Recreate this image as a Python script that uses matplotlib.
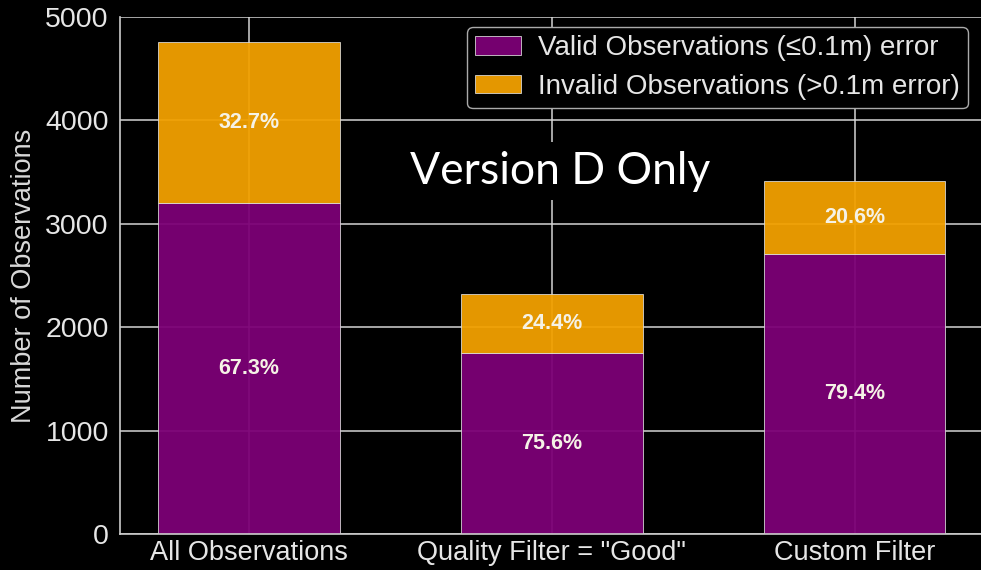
import matplotlib
matplotlib.use("Agg")
import matplotlib.pyplot as plt
import numpy as np

categories = ["All Observations", 'Quality Filter = "Good"', "Custom Filter"]
valid = [3203, 1754, 2711]
invalid = [1557, 566, 703]
valid_pct = ["67.3%", "75.6%", "79.4%"]
invalid_pct = ["32.7%", "24.4%", "20.6%"]
yticks = [0, 1000, 2000, 3000, 4000, 5000]

purple = "#7c0076"
orange = "#F2A000"

plt.rcParams['font.family'] = ['Liberation Sans', 'DejaVu Sans']
fig = plt.figure(figsize=(9.81, 5.70), dpi=100, facecolor='black')
ax = fig.add_axes([120/981, 1-534/570, 1-120/981 + 0.01, (534-17)/570])
ax.set_facecolor('black')

x = np.arange(len(categories))
ax.set_axisbelow(True)
ax.grid(True, color='#d8d8d8', linewidth=1.2, alpha=0.9)
b1 = ax.bar(x, valid, width=0.6, color=purple, alpha=0.95, edgecolor='#dddddd', linewidth=0.6,
            label="Valid Observations (≤0.1m) error")
b2 = ax.bar(x, invalid, width=0.6, bottom=valid, color=orange, alpha=0.95, edgecolor='#dddddd', linewidth=0.6,
            label="Invalid Observations (>0.1m error)")

for i in range(len(categories)):
    ax.text(x[i], valid[i] / 2, valid_pct[i], ha='center', va='center', color='#f5f2e6',
            fontsize=15.5, fontweight='bold')
    ax.text(x[i], valid[i] + invalid[i] / 2, invalid_pct[i], ha='center', va='center', color='#f5f2e6',
            fontsize=15.5, fontweight='bold')

ax.set_xlim(-0.426, 2.45)
ax.set_ylim(0, 5000)
ax.set_yticks(yticks)
ax.set_yticklabels([str(v) for v in yticks])
ax.set_xticks(x)
ax.set_xticklabels(categories)
ax.tick_params(axis='x', colors='#e6e6e6', labelsize=19.5, length=0, pad=4)
ax.tick_params(axis='y', colors='#e6e6e6', labelsize=20.5, length=0, pad=8)
ax.set_ylabel("Number of Observations", color='#d9d9d9', fontsize=19.5, labelpad=6)
for s in ['top', 'right']:
    ax.spines[s].set_visible(False)
for s in ['left', 'bottom']:
    ax.spines[s].set_color('#cccccc')
    ax.spines[s].set_linewidth(1.2)

leg = ax.legend(loc='upper right', bbox_to_anchor=(968/981, 1-27/570), bbox_transform=fig.transFigure,
                fontsize=20, facecolor='black', edgecolor='#aaaaaa', labelcolor='#e6e6e6',
                framealpha=1, handlelength=1.65, handleheight=0.65, handletextpad=0.6,
                borderpad=0.3, labelspacing=0.45, borderaxespad=0)
leg.get_frame().set_linewidth(1.0)

fig.text(560/981, 1-171/570, "Version D Only", ha='center', va='center', color='white',
         fontsize=32, family=['Lato', 'DejaVu Sans'],
         bbox=dict(facecolor='black', edgecolor='none', pad=6))

fig.savefig("out.png", dpi=100, facecolor='black')
